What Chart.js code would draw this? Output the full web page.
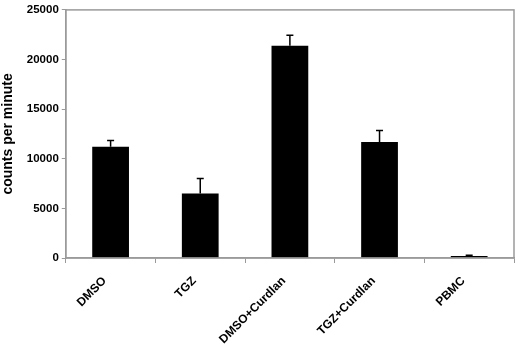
<!DOCTYPE html>
<html>
<head>
<meta charset="utf-8">
<script src="https://cdn.jsdelivr.net/npm/chart.js@4"></script>
<style>
  html, body { margin: 0; padding: 0; background: #fff; }
  #wrap { width: 520px; height: 346px; position: relative; }
</style>
</head>
<body>
<div id="wrap"><canvas id="chart"></canvas></div>
<script>
const categories = ['DMSO', 'TGZ', 'DMSO+Curdlan', 'TGZ+Curdlan', 'PBMC'];
const counts = [11200, 6500, 21400, 11700, 200];
const errors = [650, 1500, 1050, 1150, 80];
const yTicks = [0, 5000, 10000, 15000, 20000, 25000];

const FONT = '"Liberation Sans", Arial, sans-serif';
const AXIS_GREY = '#9a9a9a';

// frame round the plot area + upward error bars
const framePlugin = {
  id: 'frame',
  afterDatasetsDraw(chart) {
    const { ctx, chartArea: a, scales } = chart;
    ctx.save();
    ctx.strokeStyle = AXIS_GREY;
    ctx.lineWidth = 1.5;
    ctx.strokeRect(a.left, a.top, a.right - a.left, a.bottom - a.top);

    ctx.strokeStyle = '#000';
    ctx.lineWidth = 1.5;
    const meta = chart.getDatasetMeta(0);
    meta.data.forEach((bar, i) => {
      const x = bar.x;
      const yTop = scales.y.getPixelForValue(counts[i]);
      const yErr = scales.y.getPixelForValue(counts[i] + errors[i]);
      ctx.beginPath();
      ctx.moveTo(x, yTop);
      ctx.lineTo(x, yErr);
      ctx.moveTo(x - 3.5, yErr);
      ctx.lineTo(x + 3.5, yErr);
      ctx.stroke();
    });
    ctx.restore();
  }
};

new Chart(document.getElementById('chart').getContext('2d'), {
  type: 'bar',
  data: {
    labels: categories,
    datasets: [{
      data: counts,
      backgroundColor: '#000',
      borderWidth: 0,
      categoryPercentage: 0.82,
      barPercentage: 0.5
    }]
  },
  options: {
    responsive: true,
    maintainAspectRatio: false,
    animation: false,
    layout: { padding: { top: 6, right: 6, left: 0, bottom: 0 } },
    plugins: {
      legend: { display: false },
      tooltip: { enabled: false }
    },
    scales: {
      x: {
        offset: true,
        afterFit(axis) { axis.height = 88; },
        grid: {
          offset: true,
          drawOnChartArea: false,
          tickLength: 5,
          color: AXIS_GREY,
          lineWidth: 1
        },
        border: { color: AXIS_GREY, width: 1.5 },
        ticks: {
          color: '#000',
          minRotation: 45,
          maxRotation: 45,
          padding: 11,
          labelOffset: -6,
          font: { family: FONT, size: 12, weight: 'bold' }
        }
      },
      y: {
        min: 0,
        max: 25000,
        afterBuildTicks(axis) {
          axis.ticks = yTicks.map(v => ({ value: v }));
        },
        grid: {
          drawOnChartArea: false,
          tickLength: 4,
          color: AXIS_GREY
        },
        border: { color: AXIS_GREY, width: 1.5 },
        ticks: {
          color: '#000',
          padding: 3,
          callback: v => String(v),
          font: { family: FONT, size: 11.5, weight: 'bold' }
        },
        title: {
          display: true,
          text: 'counts per minute',
          color: '#000',
          padding: { top: 0, bottom: 7 },
          font: { family: FONT, size: 14, weight: 'bold' }
        }
      }
    }
  },
  plugins: [framePlugin]
});
</script>
</body>
</html>
